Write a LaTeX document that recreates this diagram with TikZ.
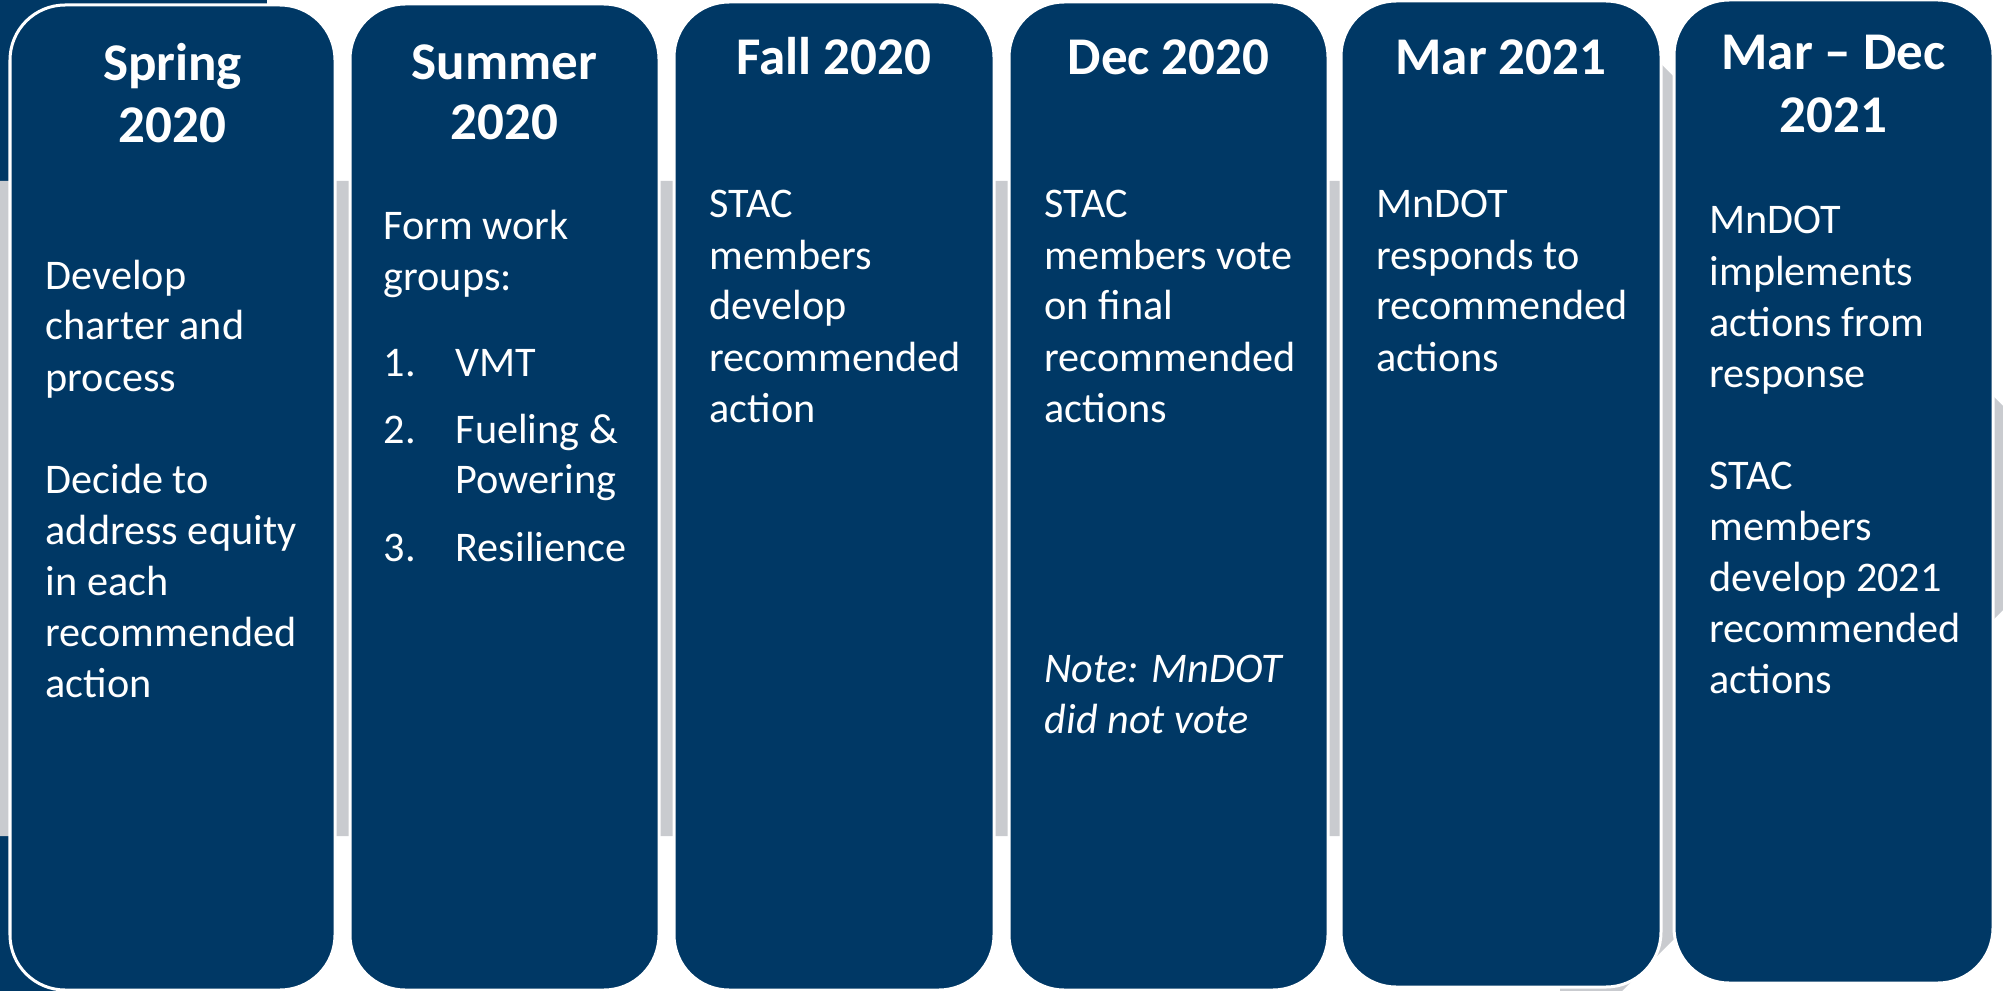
\documentclass[tikz,border=0pt]{standalone}
\usepackage{fontspec}
\setmainfont{Carlito}
\definecolor{mnblue}{HTML}{003865}
\definecolor{arrowgray}{HTML}{C9CBCF}
\begin{document}
\begin{tikzpicture}[x=0.01cm,y=-0.01cm,
  card/.style={fill=mnblue, draw=white, line width=0.03cm, rounded corners=0.55cm},
  ttl/.style={text=white, font=\fontsize{0.53cm}{0.61cm}\selectfont\bfseries, anchor=base, inner sep=0},
  body/.style={text=white, font=\fontsize{0.422cm}{0.51cm}\selectfont, anchor=base west, inner sep=0},
  note/.style={body, font=\fontsize{0.422cm}{0.51cm}\selectfont\itshape},
]
\useasboundingbox (0,0) rectangle (2003,991);
\clip (0,0) rectangle (2003,991);
% background
\fill[mnblue] (0,0) rectangle (267,991);
\fill[arrowgray] (0,181) -- (1560,181) -- (1560,-37) -- (2105,508) -- (1560,1053) -- (1560,836) -- (0,836) -- cycle;
% cards
\draw[card] (10,5) rectangle (335,990);
\draw[card] (350,4) rectangle (659,990);
\draw[card] (674,2) rectangle (994,990);
\draw[card] (1009,2) rectangle (1328,990);
\draw[card] (1341,1) rectangle (1661,987);
\draw[card] (1674,0) rectangle (1993,983);
% titles
\node[ttl] (t1a) at (172.5,81) {Spring};
\node[ttl] (t1b) at (172.5,143) {2020};
\node[ttl] (t2a) at (504.5,80) {Summer};
\node[ttl] (t2b) at (504.5,140) {2020};
\node[ttl] (t3) at (834,75) {Fall 2020};
\node[ttl] (t4) at (1168.5,75) {Dec 2020};
\node[ttl] (t5) at (1501,75) {Mar 2021};
\node[ttl] (t6a) at (1833.5,70) {Mar – Dec};
\node[ttl] (t6b) at (1833.5,133) {2021};
% box 1
\foreach \txt [count=\i] in {Develop,charter and,process}
  \node[body] (a\i) at (45,{289+51*(\i-1)}) {\txt};
\foreach \txt [count=\i] in {Decide to,address equity,in each,recommended,action}
  \node[body] (b\i) at (45,{493+51*(\i-1)}) {\txt};
% box 2
\node[body] (c1) at (383,240) {Form work};
\node[body] (c2) at (383,291) {groups:};
\node[body] (n1) at (383,376) {1.};
\node[body] (i1) at (455,376) {VMT};
\node[body] (n2) at (383,443) {2.};
\node[body] (i2) at (455,443) {Fueling \&};
\node[body] (i2b) at (455,493) {Powering};
\node[body] (n3) at (383,561) {3.};
\node[body] (i3) at (455,561) {Resilience};
% box 3
\foreach \txt [count=\i] in {STAC,members,develop,recommended,action}
  \node[body] (d\i) at (709,{218+51*(\i-1)}) {\txt};
% box 4
\foreach \txt [count=\i] in {STAC,members vote,on final,recommended,actions}
  \node[body] (e\i) at (1044,{218+51*(\i-1)}) {\txt};
\node[note] (f1) at (1044,682) {Note: MnDOT};
\node[note] (f2) at (1044,733) {did not vote};
% box 5
\foreach \txt [count=\i] in {MnDOT,responds to,recommended,actions}
  \node[body] (g\i) at (1376,{218+51*(\i-1)}) {\txt};
% box 6
\foreach \txt [count=\i] in {MnDOT,implements,actions from,response}
  \node[body] (h\i) at (1709,{234+51*(\i-1)}) {\txt};
\foreach \txt [count=\i] in {STAC,members,develop 2021,recommended,actions}
  \node[body] (k\i) at (1709,{489+51*(\i-1)}) {\txt};
\end{tikzpicture}
\end{document}
